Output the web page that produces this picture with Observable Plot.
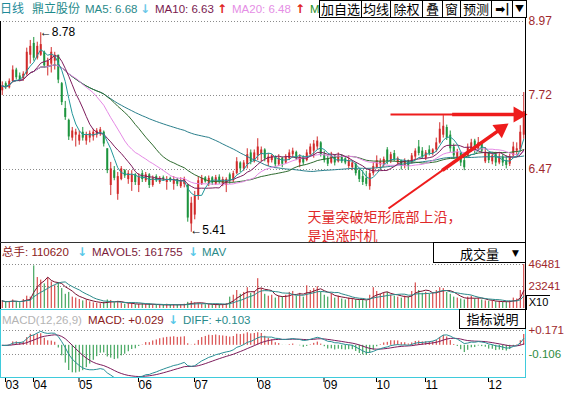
<!DOCTYPE html>
<html><head><meta charset="utf-8">
<script src="https://cdn.jsdelivr.net/npm/d3@7"></script>
<script src="https://cdn.jsdelivr.net/npm/@observablehq/plot@0.6"></script>
<style>
html,body{margin:0;padding:0;background:#fff;}
#root{position:relative;width:569px;height:395px;overflow:hidden;background:#fff;font-family:"Liberation Sans","Noto Sans CJK SC",sans-serif;font-size:12px;}
#root svg{position:absolute;left:0;}
.abs{position:absolute;white-space:nowrap;line-height:12px;font-size:12px;}
.box{position:absolute;border:1px solid #000;box-sizing:border-box;background:#fff;text-align:center;font-family:"Noto Sans CJK SC",sans-serif;font-size:13px;color:#000;}
.ln{position:absolute;}
</style></head><body><div id="root"></div>
<script>
// ---------- data ----------
const opens = [7.80,7.92,7.85,7.95,8.15,8.05,8.00,8.08,8.40,8.60,
8.35,8.40,8.45,8.20,8.25,8.30,8.40,7.92,7.50,7.30,
7.00,7.05,6.95,7.10,6.95,7.00,7.02,7.05,7.08,7.10,
6.82,6.20,6.45,6.05,6.30,6.45,6.30,6.25,6.38,6.20,
6.40,6.28,6.38,6.20,6.35,6.25,6.33,6.25,6.32,6.22,
6.30,6.18,6.22,6.20,5.55,5.70,6.02,6.22,6.33,6.22,
6.33,6.22,6.34,6.22,6.20,6.38,6.28,6.40,6.58,6.48,
6.55,6.75,6.60,6.70,6.72,6.80,6.58,6.62,6.68,6.55,
6.66,6.58,6.65,6.72,6.76,6.58,6.68,6.62,6.72,6.78,
6.85,6.92,6.72,6.65,6.58,6.70,6.60,6.70,6.65,6.52,
6.50,6.56,6.45,6.35,6.32,6.18,6.40,6.50,6.55,6.55,
6.80,6.60,6.74,6.58,6.62,6.52,6.62,6.58,6.68,6.85,
6.78,6.66,6.80,6.74,6.80,6.92,7.05,7.18,7.05,6.85,
6.66,6.74,6.62,6.70,6.80,6.95,6.80,6.90,6.60,6.74,
6.60,6.72,6.58,6.68,6.62,6.56,6.70,6.78,6.80,7.05];
const highs = [7.95,7.95,8.00,8.22,8.18,8.10,8.12,8.52,8.65,8.70,
8.62,8.78,8.47,8.35,8.53,8.45,8.40,7.94,7.62,7.32,
7.18,7.15,7.12,7.18,7.10,7.12,7.15,7.16,7.18,7.12,
6.82,6.59,6.52,6.42,6.52,6.47,6.45,6.45,6.40,6.40,
6.45,6.42,6.40,6.36,6.38,6.35,6.36,6.35,6.34,6.35,
6.32,6.33,6.34,6.22,6.00,6.10,6.35,6.37,6.35,6.36,
6.35,6.37,6.38,6.34,6.33,6.41,6.44,6.67,6.60,6.62,
6.82,6.80,6.80,6.99,6.85,6.82,6.74,6.72,6.70,6.72,
6.68,6.72,6.80,6.83,6.78,6.72,6.70,6.80,6.90,6.96,
7.02,6.94,6.78,6.70,6.76,6.72,6.75,6.72,6.67,6.70,
6.62,6.58,6.48,6.45,6.44,6.48,6.59,6.70,6.65,6.68,
6.84,6.76,6.79,6.68,6.63,6.65,6.63,6.74,6.82,6.96,
6.84,6.79,6.87,6.82,7.00,7.26,7.38,7.22,7.12,6.90,
6.81,6.76,6.70,6.90,6.98,6.98,7.01,6.91,6.84,6.76,
6.76,6.76,6.74,6.72,6.70,6.73,6.93,6.92,7.21,7.77];
const lows = [7.72,7.82,7.83,7.93,7.98,7.95,7.96,8.05,8.25,8.30,
8.32,8.38,8.18,8.05,8.10,8.15,7.92,7.55,7.30,6.96,
6.95,6.85,6.88,6.95,6.88,6.92,6.95,7.00,7.03,6.85,
6.40,6.03,6.28,5.95,6.28,6.32,6.22,6.10,6.20,6.08,
6.25,6.25,6.15,6.17,6.25,6.22,6.27,6.12,6.25,6.12,
6.18,6.15,6.16,5.58,5.41,5.62,5.95,6.20,6.24,6.18,
6.20,6.20,6.22,6.18,6.08,6.22,6.25,6.38,6.42,6.44,
6.48,6.55,6.58,6.62,6.60,6.60,6.52,6.58,6.50,6.52,
6.50,6.56,6.62,6.66,6.62,6.50,6.54,6.60,6.68,6.66,
6.80,6.68,6.58,6.52,6.56,6.53,6.58,6.57,6.55,6.48,
6.45,6.36,6.25,6.20,6.18,6.12,6.36,6.48,6.45,6.50,
6.55,6.57,6.60,6.55,6.46,6.48,6.46,6.56,6.62,6.70,
6.64,6.62,6.70,6.70,6.76,6.90,7.00,6.96,6.76,6.64,
6.62,6.52,6.45,6.68,6.76,6.74,6.78,6.74,6.57,6.57,
6.55,6.52,6.55,6.52,6.48,6.52,6.68,6.70,6.76,6.98];
const closes = [7.88,7.85,7.96,8.15,8.02,7.98,8.08,8.45,8.55,8.35,
8.55,8.58,8.22,8.30,8.45,8.40,7.98,7.60,7.35,7.02,
7.12,7.10,7.05,7.00,7.05,7.08,7.10,7.12,7.14,6.90,
6.45,6.48,6.32,6.35,6.48,6.36,6.40,6.38,6.25,6.35,
6.30,6.38,6.20,6.32,6.28,6.32,6.30,6.30,6.28,6.30,
6.22,6.28,6.30,5.65,5.90,6.02,6.28,6.32,6.26,6.32,
6.24,6.33,6.26,6.30,6.30,6.28,6.40,6.60,6.48,6.58,
6.72,6.60,6.75,6.85,6.80,6.65,6.68,6.70,6.55,6.66,
6.56,6.68,6.75,6.78,6.65,6.68,6.58,6.75,6.85,6.90,
6.95,6.72,6.62,6.56,6.70,6.58,6.70,6.60,6.58,6.62,
6.58,6.40,6.30,6.25,6.22,6.40,6.52,6.62,6.60,6.64,
6.60,6.72,6.64,6.65,6.52,6.62,6.52,6.70,6.78,6.74,
6.68,6.75,6.74,6.80,6.92,7.15,7.20,7.00,6.82,6.70,
6.76,6.58,6.50,6.84,6.92,6.80,6.92,6.78,6.76,6.62,
6.70,6.58,6.68,6.58,6.54,6.68,6.85,6.82,7.10,7.45];
const volumes = [8000,6500,7500,9000,7000,6000,9500,13000,12000,45000,
32700,30000,26000,32000,28000,24000,27000,21000,15000,17000,
12000,11000,9500,8000,9000,7000,6000,5500,5000,6500,
9000,8500,6000,7500,5500,4500,5000,5500,4000,4500,
5000,4200,4800,3800,3500,4000,3200,4500,3600,4200,
3800,4000,4500,6500,7500,6000,5500,4500,4000,4200,
3800,4400,3900,4300,5200,12000,14000,19000,15000,17000,
22000,16000,18000,31500,21000,15000,13000,14000,11000,13000,
12000,14000,17000,18000,13000,16000,12000,24000,19000,21000,
23000,17000,14000,12000,15000,11000,13000,10000,9000,11000,
10000,9000,8500,9500,8000,14000,22000,18000,15000,16000,
17000,14000,13000,12000,11000,13000,12000,18000,27000,19000,
16000,17000,15000,16000,19000,22000,21000,17000,15000,12000,
11000,10000,9000,12000,13000,10000,11000,9000,8000,7500,
8000,7000,7500,6500,7000,8000,11000,10000,19000,46481];
const monthStarts = [1, 9, 22, 39, 55, 73, 92, 107, 121, 139];
const monthLabels = ["03","04","05","06","07","08","09","10","11","12"];
const priceTicks = [6.47, 7.72, 8.97];
const volTicks = [23241, 46481];
const macdTicks = [0.171, -0.106];
const maPeriods = [5, 10, 20, 30, 60];
const volMaPeriods = [5, 10];
const noteLines = ["天量突破矩形底部上沿，", "是追涨时机"];

// ---------- styles ----------
const RED = "#d12a2a", GREEN = "#1c943e", ANN = "#ee1c1c";
const maColors = ["#22979a", "#7d1c5c", "#e589e5", "#2f6b2f", "#2b7f8c"];
const volMaColors = ["#7a1030", "#2a8a8a"];
const LABEL_RED = "#a0282d";
const FONT = "Liberation Sans, Noto Sans CJK SC, sans-serif";
const N = closes.length;
const X = {domain: [-0.5, N - 0.5], range: [0, 525]};

// ---------- derived ----------
const bars = closes.map((c, i) => ({i, open: opens[i], high: highs[i], low: lows[i], close: c, vol: volumes[i], up: c >= opens[i]}));
function ma(arr, n) { return arr.map((_, k) => { const w = arr.slice(Math.max(0, k - n + 1), k + 1); return d3.mean(w); }); }
function ema(arr, n) { const a = 2 / (n + 1); let e; return arr.map((v, k) => (e = k === 0 ? v : a * v + (1 - a) * e)); }
const e12 = ema(closes, 12), e26 = ema(closes, 26);
const diff = e12.map((v, k) => v - e26[k]);
const dea = ema(diff, 9);
const mdata = diff.map((v, k) => ({i: k, diff: v, dea: dea[k], macd: 2 * (v - dea[k])}));

// pixel helpers for annotation geometry
const yTop = 9.3247, yBot = 5.22, pxPerUnit = 243 / (yTop - yBot);
const px = i => 525 * (i + 0.5) / N, py = p => (yTop - p) * pxPerUnit;
const idxAt = x => x * N / 525 - 0.5, priceAt = y => yTop - y / pxPerUnit;

const hiBar = bars.reduce((a, b) => b.high > a.high ? b : a);
const loBar = bars.reduce((a, b) => b.low < a.low ? b : a);

// annotation arrows (in data units)
const hTail = {x: idxAt(390), y: priceAt(114)}, hTip = {x: idxAt(527), y: priceAt(114)};
const dTail = {x: idxAt(388), y: priceAt(208)}, dTip = {x: idxAt(508), y: priceAt(123)};
function arrowParts(t, h) {
  const dx = px(h.x) - px(t.x), dy = py(h.y) - py(t.y), L = Math.hypot(dx, dy);
  const ux = dx / L, uy = dy / L, back = 9.3;
  const cx = px(h.x) - ux * back, cy = py(h.y) - uy * back;
  const mx = px(t.x) + dx * 0.45, my = py(t.y) + dy * 0.45;
  return {head: {x: idxAt(cx), y: priceAt(cy), rot: Math.atan2(ux, -uy) * 180 / Math.PI},
          shaft: {x1: t.x, y1: t.y, x2: idxAt(cx), y2: priceAt(cy)},
          thick: {x1: idxAt(mx), y1: priceAt(my), x2: idxAt(cx), y2: priceAt(cy)}};
}
const A1 = arrowParts(hTail, hTip), A2 = arrowParts(dTail, dTip);

const baseStyle = {background: "transparent", fontFamily: FONT, fontSize: "12px", overflow: "visible"};

// ---------- price panel ----------
const price = Plot.plot({
  width: 569, height: 243, marginTop: 0, marginBottom: 0, marginLeft: 0, marginRight: 44,
  x: {...X, axis: null}, y: {domain: [yBot, yTop], range: [243, 0], axis: null},
  color: {type: "identity"}, style: baseStyle,
  marks: [
    Plot.ruleY(priceTicks, {stroke: "#8a8a8a", strokeDasharray: "1,2"}),
    Plot.ruleX(bars, {x: "i", y1: "low", y2: "high", stroke: d => d.up ? RED : GREEN, strokeWidth: 1}),
    Plot.ruleX(bars, {x: "i", y1: "open", y2: "close", stroke: d => d.up ? RED : GREEN, strokeWidth: 2}),
    ...maPeriods.slice().reverse().map((n, k) => {
      const vals = ma(closes, n); const c = maColors[maPeriods.length - 1 - k];
      return Plot.line(vals.map((v, i) => ({i, v})), {x: "i", y: "v", stroke: c, strokeWidth: 1});
    }),
    Plot.text(priceTicks, {y: d => d, text: d => d.toFixed(2), frameAnchor: "right", textAnchor: "start", dx: 3, fill: LABEL_RED, fontSize: 12}),
    Plot.text([hiBar], {x: "i", y: "high", text: d => "←" + d.high.toFixed(2), textAnchor: "start", dx: -1, dy: -1, fill: "#000", fontSize: 12}),
    Plot.text([loBar], {x: "i", y: "low", text: d => "←" + d.low.toFixed(2), textAnchor: "start", dx: -1, dy: -2, fill: "#000", fontSize: 12}),
    Plot.link([A1.shaft, A2.shaft], {x1: "x1", y1: "y1", x2: "x2", y2: "y2", stroke: ANN, strokeWidth: 2}),
    Plot.link([A1.thick, A2.thick], {x1: "x1", y1: "y1", x2: "x2", y2: "y2", stroke: ANN, strokeWidth: 3.5}),
    Plot.dot([A1.head, A2.head], {x: "x", y: "y", rotate: "rot", symbol: "triangle", r: 6, fill: ANN, stroke: "none"}),
    Plot.text(noteLines.map((t, k) => ({t, x: idxAt(307), y: priceAt(217 + k * 19)})), {x: "x", y: "y", text: "t", textAnchor: "start", fill: "#e02828", fontSize: 14, fontFamily: "Noto Sans CJK SC, sans-serif"})
  ]
});

// ---------- volume panel ----------
const vol = Plot.plot({
  width: 569, height: 66, marginTop: 0, marginBottom: 0, marginLeft: 0, marginRight: 44,
  x: {...X, axis: null}, y: {domain: [0, 46481], range: [65, 21], axis: null},
  color: {type: "identity"}, style: baseStyle,
  marks: [
    Plot.ruleY(volTicks, {stroke: "#8a8a8a", strokeDasharray: "1,2"}),
    Plot.ruleX(bars, {x: "i", y1: 0, y2: "vol", stroke: d => d.up ? RED : GREEN, strokeWidth: 1}),
    ...volMaPeriods.map((n, k) => Plot.line(ma(volumes, n).map((v, i) => ({i, v})), {x: "i", y: "v", stroke: volMaColors[k], strokeWidth: 1})),
    Plot.text(volTicks, {y: d => d, text: d => String(d), frameAnchor: "right", textAnchor: "start", dx: 3, fill: LABEL_RED, fontSize: 11.5})
  ]
});

// ---------- MACD panel ----------
const tickLab = new Map(monthStarts.map((m, k) => [m - 0.5, monthLabels[k]]));
const macd = Plot.plot({
  width: 569, height: 86, marginTop: 0, marginBottom: 18, marginLeft: 0, marginRight: 44,
  x: {...X, label: null}, y: {domain: [-0.3715, 0.4134], range: [68, 0], axis: null},
  color: {type: "identity"}, style: baseStyle,
  marks: [
    Plot.ruleY(macdTicks, {stroke: "#8a8a8a", strokeDasharray: "1,2"}),
    Plot.ruleX(mdata, {x: "i", y1: 0, y2: "macd", stroke: d => d.macd >= 0 ? RED : GREEN, strokeWidth: 1, clip: true}),
    Plot.line(mdata, {x: "i", y: "dea", stroke: "#7d1c5c", strokeWidth: 1, clip: true}),
    Plot.line(mdata, {x: "i", y: "diff", stroke: "#2a8f96", strokeWidth: 1, clip: true}),
    Plot.text(macdTicks, {y: d => d, text: d => (d > 0 ? "+" : "") + d.toFixed(3), frameAnchor: "right", textAnchor: "start", dx: 3, fill: d => d > 0 ? LABEL_RED : "#2e8b3e", fontSize: 11.5}),
    Plot.axisX(monthStarts.map(m => m - 0.5), {anchor: "bottom", label: null, tickSize: 5, tickPadding: -2, tickFormat: d => tickLab.get(d), textAnchor: "start", dx: 1.5, fontSize: 12, color: "#000"})
  ]
});

const root = document.getElementById("root");
price.style.top = "0px"; vol.style.top = "243px"; macd.style.top = "309px";
root.append(price, vol, macd);

// ---------- frame lines ----------
function line(l, t, w, h, c) { const d = document.createElement("div"); d.className = "ln"; Object.assign(d.style, {left: l + "px", top: t + "px", width: w + "px", height: h + "px", background: c}); root.appendChild(d); }
line(0, 21, 1, 288, "#000");
line(525, 0, 1, 309, "#000");
line(0, 242, 526, 1, "#333");
const mb = document.createElement("div"); mb.className = "ln";
Object.assign(mb.style, {left: "0px", top: "309px", width: "526px", height: "69px", border: "1px solid #3fcbdc", boxSizing: "border-box"});
root.appendChild(mb);

// ---------- header texts ----------
function txt(t, l, top, color, extra) { const s = document.createElement("div"); s.className = "abs"; s.textContent = t; Object.assign(s.style, {left: l + "px", top: top + "px", color}, extra || {}); root.appendChild(s); }
const ARW = {fontFamily: "DejaVu Sans", fontWeight: "bold", fontSize: "12px"};
const HDR = {fontSize: "11.5px"};
txt("日线", 0, 3, "#1d8a99");
txt("鼎立股份", 32, 3, "#1d8a8a");
txt("MA5: 6.68", 85, 3, "#2a8a8a", HDR);
txt("↓", 140, 3, "#6cc8e8", ARW);
txt("MA10: 6.63", 155, 3, "#7a1a4f", HDR);
txt("↑", 217, 3, "#e02020", ARW);
txt("MA20: 6.48", 232, 3, "#e58ee5", HDR);
txt("↑", 295, 3, "#e02020", ARW);
txt("M", 310, 3, "#1f8f1f", HDR);
function box(t, l, top, w, h, extra) { const b = document.createElement("div"); b.className = "box"; b.textContent = t; Object.assign(b.style, {left: l + "px", top: top + "px", width: w + "px", height: h + "px", lineHeight: (h - 2) + "px"}, extra || {}); root.appendChild(b); }
[["加自选", 319, 361], ["均线", 361, 390], ["除权", 390, 422], ["叠", 422, 442], ["窗", 442, 460], ["预测", 460, 491], ["➡|", 491, 513], ["▼", 512, 526]].forEach(([t, a, b]) => box(t, a, 0, b - a + 1, 18, t === "▼" ? {fontSize: "9px"} : (t === "➡|" ? {fontFamily: "DejaVu Sans", fontWeight: "bold", fontSize: "12px"} : {})));

// volume header
txt("总手: 110620", 2, 246, "#8b2020", HDR);
txt("↓", 77, 246, "#58c8e8", ARW);
txt("MAVOL5: 161755", 92, 246, "#7b1b3b", HDR);
txt("↓", 188, 246, "#58c8e8", ARW);
txt("MAV", 202, 246, "#2a8a8a", HDR);
box("", 433, 242, 93, 21);
txt("成交量", 460, 247, "#000", {fontSize: "13px", lineHeight: "13px", fontFamily: "Noto Sans CJK SC"});
txt("▼", 512, 249, "#000", {fontSize: "9px", lineHeight: "9px", fontFamily: "DejaVu Sans"});
box("X10", 526, 295, 24, 15, {fontFamily: FONT, fontSize: "11px", lineHeight: "13px", borderRight: "none", borderBottom: "none"});

// MACD header
txt("MACD(12,26,9)", 2, 314, "#b4b4b4", HDR);
txt("MACD: +0.029", 88, 314, "#8b2020", HDR);
txt("↓", 168, 314, "#58c8e8", ARW);
txt("DIFF: +0.103", 183, 314, "#2a8a8a", HDR);
box("指标说明", 459, 309, 67, 20);
</script></body></html>
